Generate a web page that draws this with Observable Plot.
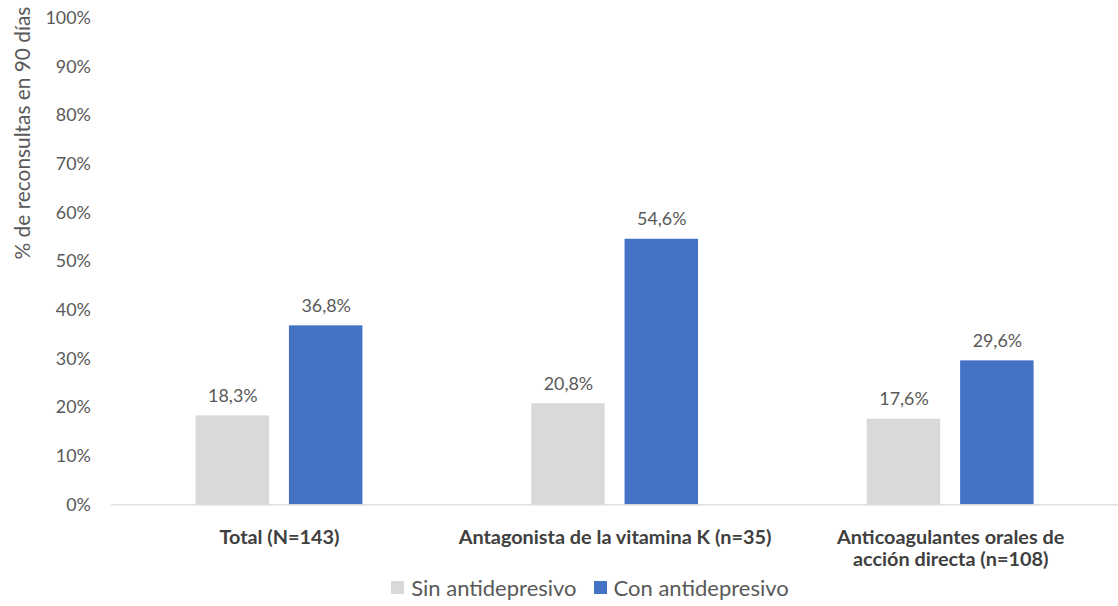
<!DOCTYPE html>
<html>
<head>
<meta charset="utf-8">
<script src="https://cdn.jsdelivr.net/npm/d3@7"></script>
<script src="https://cdn.jsdelivr.net/npm/@observablehq/plot@0.6"></script>
<style>
  html, body { margin: 0; padding: 0; background: #fff; overflow: hidden; }
  #legend { display: flex; justify-content: center; gap: 17px; font-family: Lato, sans-serif; font-size: 22px; line-height: 26px; color: #595959; padding-left: 62px; margin-top: 4px; }
  #legend .item { display: flex; align-items: center; gap: 7px; }
  #legend .sw { width: 13px; height: 13px; display: inline-block; }
</style>
</head>
<body>
<div id="chart"></div>
<div id="legend"></div>
<script>
const groups = ["Total (N=143)", "Antagonista de la vitamina K (n=35)", "Anticoagulantes orales de\nacción directa (n=108)"];
const series = ["Sin antidepresivo", "Con antidepresivo"];
const sinValues = [18.3, 20.8, 17.6];
const conValues = [36.8, 54.6, 29.6];
const yTicks = [0, 10, 20, 30, 40, 50, 60, 70, 80, 90, 100];
const colors = ["#d9d9d9", "#4472c4"];
const yTitle = "% de reconsultas en 90 días";

const data = [];
groups.forEach((g, i) => {
  data.push({group: g, series: series[0], value: sinValues[i]});
  data.push({group: g, series: series[1], value: conValues[i]});
});
const fmt = v => v.toFixed(1).replace(".", ",") + "%";

const chart = Plot.plot({
  width: 1126,
  height: 575,
  marginLeft: 112,
  marginRight: 0,
  marginTop: 18,
  marginBottom: 67,
  style: {fontFamily: "Lato, sans-serif", fontSize: "17px", background: "#fff"},
  fx: {domain: groups, padding: 0, label: null},
  x: {domain: series, axis: null, paddingInner: 0.21, paddingOuter: 0.884},
  y: {domain: [0, 100], label: null},
  color: {domain: series, range: colors},
  marks: [
    Plot.barY(data, {fx: "group", x: "series", y: "value", fill: "series"}),
    Plot.ruleY([0], {stroke: "#d9d9d9", strokeWidth: 1.2}),
    Plot.text(data, {fx: "group", x: "series", y: "value", text: d => fmt(d.value), lineAnchor: "bottom", dy: -14, fill: "#595959", fontSize: 18}),
    Plot.axisY({ticks: yTicks, tickFormat: d => d + "%", tickSize: 0, tickPadding: 21, color: "#595959", fontSize: 18, label: null}),
    Plot.axisFx({anchor: "bottom", tickSize: 0, tickPadding: 24, lineAnchor: "top", fill: "#404040", fontWeight: "bold", fontSize: 20, lineHeight: 1.1, label: null})
  ]
});
document.getElementById("chart").appendChild(chart);

d3.select(chart).append("text")
  .attr("transform", "translate(22,134) rotate(-90)")
  .attr("text-anchor", "middle")
  .attr("dominant-baseline", "central")
  .attr("fill", "#595959")
  .style("font-size", "21px")
  .style("font-family", "Lato, sans-serif")
  .text(yTitle);

const legend = d3.select("#legend");
series.forEach((s, i) => {
  const item = legend.append("div").attr("class", "item");
  item.append("span").attr("class", "sw").style("background", colors[i]);
  item.append("span").text(s);
});
</script>
</body>
</html>
